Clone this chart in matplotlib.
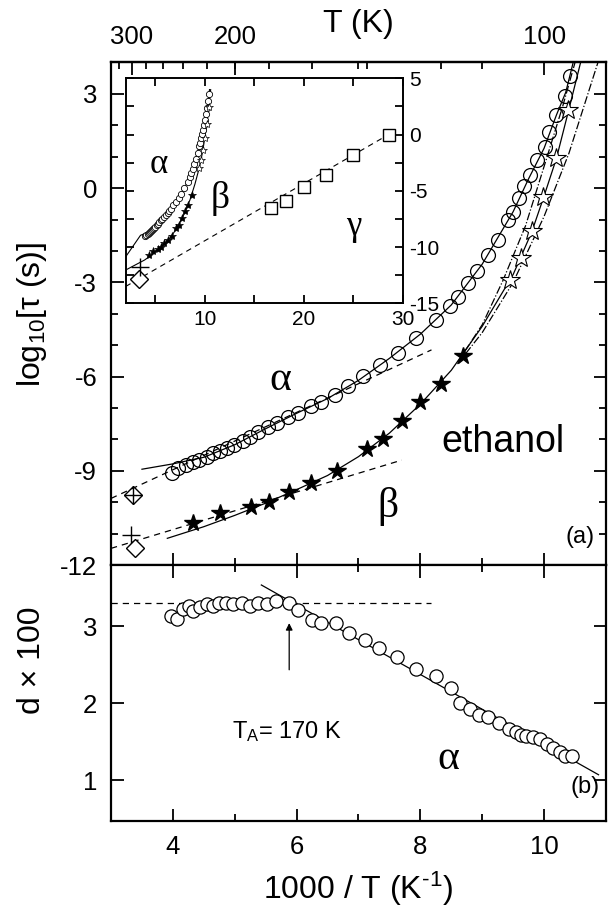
"""Relaxation map of ethanol: log tau vs 1000/T with inset and d-parameter panel."""

import matplotlib

matplotlib.use("Agg")

import matplotlib.pyplot as plt
from matplotlib.ticker import FixedLocator, MultipleLocator
import numpy as np

plt.rcParams["font.family"] = ["Liberation Sans", "DejaVu Sans"]
plt.rcParams["mathtext.fontset"] = "custom"
plt.rcParams["mathtext.rm"] = "Liberation Sans"
plt.rcParams["mathtext.it"] = "Liberation Sans:italic"
plt.rcParams["axes.unicode_minus"] = False

SERIF = ["Liberation Serif", "DejaVu Serif"]

# alpha relaxation (open circles), x = 1000/T, y = log10 tau
alpha_x = [3.98, 4.09, 4.21, 4.32, 4.43, 4.55, 4.65, 4.76, 4.87, 4.99, 5.13, 5.25,
           5.38, 5.54, 5.68, 5.86, 6.03, 6.24, 6.40, 6.62, 6.83, 7.08, 7.35, 7.64,
           7.93, 8.26, 8.48, 8.61, 8.77, 8.91, 9.10, 9.26, 9.42, 9.49, 9.60, 9.68,
           9.77, 9.89, 10.01, 10.08, 10.20, 10.33, 10.42]
alpha_y = [-9.06, -8.92, -8.82, -8.71, -8.66, -8.55, -8.44, -8.36, -8.28, -8.18, -8.05, -7.91,
           -7.75, -7.61, -7.49, -7.30, -7.15, -6.94, -6.80, -6.59, -6.30, -5.98, -5.63, -5.26,
           -4.78, -4.20, -3.75, -3.46, -3.03, -2.63, -2.13, -1.65, -1.01, -0.75, -0.32, 0.07,
           0.42, 0.88, 1.30, 1.80, 2.33, 2.94, 3.57]

# beta relaxation, filled stars (dielectric) and open stars (other data)
beta_x = [4.33, 4.76, 5.26, 5.55, 5.88, 6.24, 6.66, 7.13, 7.40, 7.70, 8.00, 8.34, 8.69]
beta_y = [-10.67, -10.35, -10.14, -9.98, -9.67, -9.38, -9.00, -8.32, -8.00, -7.40, -6.82, -6.23, -5.34]
beta_open_x = [9.45, 9.63, 9.80, 9.98, 10.20, 10.39]
beta_open_y = [-2.94, -2.23, -1.38, -0.27, 0.95, 2.49]

# room temperature points
rt_x = 3.36
rt_diamond_plus_y = -9.77
rt_plus_y = -11.04
rt_diamond_y = -11.47

# fit curves
alpha_fit_x = [3.50, 4.0, 4.5, 5.0, 5.5, 6.0, 6.5, 7.0, 7.5, 8.0, 8.5, 9.0, 9.5, 9.75, 10.0, 10.2, 10.35, 10.47]
alpha_fit_y = [-8.95, -8.78, -8.57, -8.17, -7.66, -7.17, -6.70, -6.12, -5.42, -4.65, -3.72, -2.42, -0.75, 0.30, 1.27, 2.33, 3.05, 4.0]
beta_fit_x = [3.91, 4.5, 5.0, 5.5, 6.0, 6.5, 7.0, 7.5, 8.0, 8.5, 9.0, 9.5, 9.8, 10.0, 10.2, 10.4, 10.59]
beta_fit_y = [-11.15, -10.78, -10.42, -10.03, -9.60, -9.15, -8.55, -7.80, -6.88, -5.80, -4.40, -2.75, -1.40, -0.25, 0.95, 2.50, 4.0]
dd1_x = [8.6, 9.0, 9.34, 9.7, 10.03, 10.3, 10.5]
dd1_y = [-5.55, -4.35, -2.92, -1.20, 0.88, 2.60, 4.0]
dd2_x = [8.6, 9.0, 9.5, 10.0, 10.4, 10.87]
dd2_y = [-5.60, -4.60, -3.00, -0.90, 1.10, 4.0]
alpha_arr_x = [3.0, 8.18]
alpha_arr_y = [-9.88, -5.15]
beta_arr_x = [3.0, 7.70]
beta_arr_y = [-11.47, -8.66]

# inset: gamma relaxation (squares) and its Arrhenius line
gamma_x = [16.67, 18.18, 20.0, 22.22, 25.0, 28.57]
gamma_y = [-6.5, -5.9, -4.7, -3.6, -1.8, 0.0]
gamma_fit_x = [2.0, 28.57]
gamma_fit_y = [-13.5, 0.0]
inset_diamond = (3.38, -12.8)
inset_plus = (3.45, -11.75)

# top axis temperatures
t_major = [300, 200, 100]
t_minor = [320, 280, 260, 240, 220, 180, 160, 140, 120]

# panel (b): stretching parameter d x 100
d_x = [3.97, 4.07, 4.16, 4.26, 4.33, 4.44, 4.55, 4.65, 4.74, 4.86, 4.97, 5.12, 5.24, 5.37,
       5.52, 5.67, 5.88, 6.03, 6.25, 6.40, 6.63, 6.85, 7.10, 7.33, 7.62, 7.93, 8.26, 8.50,
       8.64, 8.80, 8.94, 9.10, 9.27, 9.43, 9.55, 9.63, 9.70, 9.82, 9.93, 10.04, 10.15,
       10.26, 10.34, 10.45]
d_y = [3.14, 3.10, 3.23, 3.27, 3.20, 3.25, 3.29, 3.27, 3.31, 3.30, 3.29, 3.30, 3.27, 3.31,
       3.29, 3.33, 3.31, 3.21, 3.08, 3.04, 3.04, 2.91, 2.83, 2.72, 2.60, 2.45, 2.35, 2.20,
       2.01, 1.93, 1.85, 1.82, 1.74, 1.67, 1.63, 1.59, 1.57, 1.56, 1.54, 1.47, 1.42,
       1.37, 1.32, 1.31]
d_plateau = 3.30
d_plateau_x = [3.0, 8.18]
d_line_x = [5.43, 10.88]
d_line_y = [3.54, 1.07]
t_a_x = 5.88


def style_ticks(ax, size=18.5, pad=10):
    ax.tick_params(which="both", direction="in", top=True, right=True, width=1.3,
                   labelsize=size, pad=pad)
    ax.tick_params(which="major", length=9)
    ax.tick_params(which="minor", length=5)
    for spine in ax.spines.values():
        spine.set_linewidth(1.6)


def draw_panel_a(ax):
    lw = 0.9
    ax.plot(alpha_fit_x, alpha_fit_y, "-", color="black", lw=lw)
    ax.plot(beta_fit_x, beta_fit_y, "-", color="black", lw=lw)
    ax.plot(dd1_x, dd1_y, "-.", color="black", lw=lw)
    ax.plot(dd2_x, dd2_y, "-.", color="black", lw=lw)
    ax.plot(alpha_arr_x, alpha_arr_y, "--", color="black", lw=lw, dashes=(5, 4))
    ax.plot(beta_arr_x, beta_arr_y, "--", color="black", lw=lw, dashes=(5, 4))

    ax.plot(alpha_x, alpha_y, "o", ms=10, mfc="none", mec="black", mew=0.9)
    ax.plot(beta_x, beta_y, "*", ms=13, mfc="black", mec="black")
    ax.plot(beta_open_x, beta_open_y, "*", ms=15, mfc="white", mec="black", mew=0.8)

    ax.plot(rt_x, rt_diamond_plus_y, "D", ms=9, mfc="none", mec="black", mew=1.0)
    ax.plot(rt_x, rt_diamond_plus_y, "+", ms=13, mec="black", mew=1.0)
    ax.plot(rt_x - 0.03, rt_plus_y, "+", ms=13, mec="black", mew=1.0)
    ax.plot(rt_x + 0.03, rt_diamond_y, "D", ms=9, mfc="white", mec="black", mew=1.0)

    ax.set_xlim(3, 11)
    ax.set_ylim(-12, 4)
    ax.xaxis.set_major_locator(MultipleLocator(2))
    ax.xaxis.set_minor_locator(MultipleLocator(1))
    ax.yaxis.set_major_locator(FixedLocator([-12, -9, -6, -3, 0, 3]))
    ax.yaxis.set_minor_locator(MultipleLocator(1))
    style_ticks(ax)
    ax.tick_params(top=False, labelbottom=False)

    ax.text(5.73, -6.1, "α", family=SERIF, fontsize=30, ha="center", va="center")
    ax.text(7.48, -10.14, "β", family=SERIF, fontsize=30, ha="center", va="center")
    ax.text(9.34, -8.07, "ethanol", fontsize=27, ha="center", va="center")
    ax.text(10.58, -11.1, "(a)", fontsize=17, ha="center", va="center")

    inv = lambda v: 1000.0 / np.where(np.abs(v) < 1e-9, 1e-9, v)
    top = ax.secondary_xaxis("top", functions=(inv, inv))
    top.xaxis.set_major_locator(FixedLocator(t_major))
    top.xaxis.set_minor_locator(FixedLocator(t_minor))
    top.tick_params(which="both", direction="in", width=1.3, labelsize=18.5, pad=10)
    top.tick_params(which="major", length=9)
    top.tick_params(which="minor", length=5)
    top.spines["top"].set_linewidth(1.6)
    top.set_xlabel("T (K)", fontsize=23, labelpad=-5)


def draw_inset(ax):
    lw = 0.8
    ax.plot([2.0] + alpha_fit_x, [-10.86] + alpha_fit_y, "-", color="black", lw=lw)
    ax.plot([2.0] + beta_fit_x, [-12.04] + beta_fit_y, "-", color="black", lw=lw)
    ax.plot(gamma_fit_x, gamma_fit_y, "--", color="black", lw=lw, dashes=(5, 4))
    ax.plot(alpha_x, alpha_y, "o", ms=4.5, mfc="white", mec="black", mew=0.6)
    ax.plot(beta_x, beta_y, "*", ms=6, mfc="black", mec="black", mew=0.5)
    ax.plot(beta_open_x, beta_open_y, "*", ms=6, mfc="white", mec="black", mew=0.5)
    ax.plot(gamma_x, gamma_y, "s", ms=8, mfc="white", mec="black", mew=1.0)
    ax.plot(*inset_diamond, "D", ms=9, mfc="white", mec="black", mew=1.0)
    ax.plot(*inset_plus, "+", ms=13, mec="black", mew=1.0)

    ax.set_xlim(2, 30)
    ax.set_ylim(-15, 5)
    ax.xaxis.set_major_locator(MultipleLocator(10))
    ax.xaxis.set_minor_locator(MultipleLocator(5))
    ax.yaxis.set_major_locator(MultipleLocator(5))
    ax.yaxis.set_minor_locator(MultipleLocator(2.5))
    style_ticks(ax, size=15, pad=5)
    ax.tick_params(which="major", length=6)
    ax.tick_params(which="minor", length=6)
    ax.tick_params(labelleft=False, labelright=True)
    for spine in ax.spines.values():
        spine.set_linewidth(1.4)

    ax.text(5.3, -2.7, "α", family=SERIF, fontsize=25, ha="center", va="center")
    ax.text(11.6, -5.7, "β", family=SERIF, fontsize=27, ha="center", va="center")
    ax.text(25.0, -8.2, "γ", family=SERIF, fontsize=25, ha="center", va="center")


def draw_panel_b(ax):
    lw = 0.9
    ax.plot(d_plateau_x, [d_plateau, d_plateau], "--", color="black", lw=lw, dashes=(5, 4))
    ax.plot(d_line_x, d_line_y, "-", color="black", lw=lw)
    ax.plot(d_x, d_y, "o", ms=9.5, mfc="white", mec="black", mew=0.9)
    ax.annotate("", xy=(t_a_x, 3.08), xytext=(t_a_x, 2.40),
                arrowprops=dict(arrowstyle="-|>", color="black", lw=0.9,
                                mutation_scale=10))
    ax.text(5.85, 1.63, r"T$_\mathrm{A}$= 170 K", fontsize=17, ha="center", va="center")
    ax.text(8.45, 1.28, "α", family=SERIF, fontsize=30, ha="center", va="center")
    ax.text(10.66, 0.91, "(b)", fontsize=17, ha="center", va="center")

    ax.set_xlim(3, 11)
    ax.set_ylim(0.47, 3.8)
    ax.xaxis.set_major_locator(MultipleLocator(2))
    ax.xaxis.set_minor_locator(MultipleLocator(1))
    ax.yaxis.set_major_locator(MultipleLocator(1))
    ax.yaxis.set_minor_locator(FixedLocator([]))
    style_ticks(ax)
    # U+2010 hyphen keeps the superscript as a short dash like the original
    ax.set_xlabel("1000 / T (K$^{\u2010\\mathrm{1}}$)", fontsize=23, labelpad=8)


def main():
    fig = plt.figure(figsize=(6.09, 9.15), dpi=100)
    ax_a = fig.add_axes([0.1823, 0.3825, 0.8127, 0.5492])
    ax_b = fig.add_axes([0.1823, 0.1029, 0.8127, 0.2796])
    ax_in = fig.add_axes([0.2064, 0.6685, 0.4548, 0.2459])

    draw_panel_a(ax_a)
    draw_panel_b(ax_b)
    draw_inset(ax_in)

    fig.text(32 / 609, 1 - 314 / 915, r"log$_\mathrm{10}$[τ (s)]", fontsize=23,
             rotation=90, ha="center", va="center")
    fig.text(32 / 609, 1 - 660 / 915, "d × 100", fontsize=23,
             rotation=90, ha="center", va="center")

    fig.savefig("out.png", dpi=100)
    plt.close(fig)


if __name__ == "__main__":
    main()
